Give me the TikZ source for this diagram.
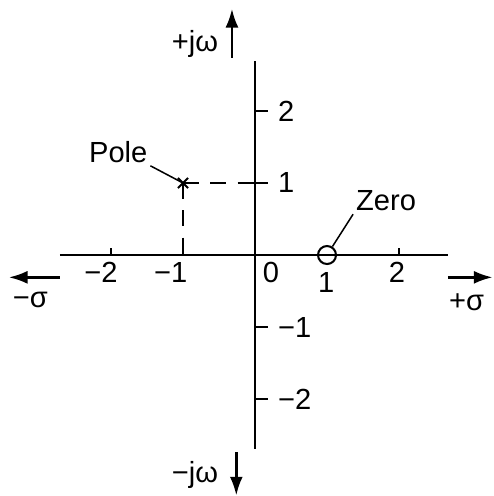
\documentclass[tikz,border=0pt]{standalone}
\usepackage{fontspec}
\setmainfont{Liberation Sans}
\usepackage{tikz}
\usetikzlibrary{arrows.meta,positioning,calc}

\begin{document}
\begin{tikzpicture}[every node/.style={font=\fontsize{11.5}{12}\selectfont, inner sep=1pt}]
\tikzset{axis/.style={line width=0.8pt}}
\tikzset{dir/.style={line width=1pt, -{Latex[length=2.6mm, width=1.8mm]}}}
\tikzset{tick/.style={line width=0.7pt}}
\tikzset{guide/.style={line width=0.7pt, dash pattern=on 2.2mm off 1.6mm}}
\useasboundingbox (-3.542,-3.347) rectangle (3.306,3.542);

% Axes
\coordinate (o) at (0,0);
\coordinate (ytop) at (0,2.69);
\coordinate (ybot) at (0,-2.69);
\coordinate (xlft) at (-2.71,0);
\coordinate (xrgt) at (2.68,0);
\draw[axis] (ytop) -- (ybot);
\draw[axis] (xlft) -- (xrgt);

% Direction arrows
\coordinate (up0) at (-0.32,2.74);   \coordinate (up1) at (-0.32,3.42);
\coordinate (dn0) at (-0.26,-2.74);  \coordinate (dn1) at (-0.26,-3.34);
\coordinate (lf0) at (-2.71,-0.31);  \coordinate (lf1) at (-3.42,-0.31);
\coordinate (rt0) at (2.68,-0.31);   \coordinate (rt1) at (3.30,-0.31);
\draw[dir] (up0) -- (up1);
\draw[dir] (dn0) -- (dn1);
\draw[dir] (lf0) -- (lf1);
\draw[dir] (rt0) -- (rt1);
\node[anchor=east] (jwp) at (-0.47,2.93) {+jω};
\node[anchor=east] (jwm) at (-0.47,-3.06) {−jω};
\node (sgm) at (-3.12,-0.63) {−σ};
\node (sgp) at (2.94,-0.65) {+σ};

% Ticks and labels
\foreach \v/\t in {2/2,-1/−1,-2/−2} {
  \draw[tick] (0,\v) -- (0.18,\v);
  \node[anchor=west] (ty\v) at (0.28,\v) {\t};
}
\draw[tick] (-0.17,1) -- (0.18,1);
\node[anchor=west] (ty1) at (0.28,1.01) {1};
\foreach \u/\t/\xs in {-2/−2/-2.14,-1/−1/-1.17,2/2/1.97} {
  \draw[tick] (\u,0) -- (\u,0.10);
  \node (tx\u) at (\xs,-0.24) {\t};
}
\node (tx0) at (0.22,-0.24) {0};
\node (tx1) at (0.99,-0.38) {1};

% Pole and zero
\coordinate (pole) at (-1,1);
\draw[line width=0.8pt] ($(pole)+(-0.07,-0.07)$) -- ($(pole)+(0.07,0.07)$)
  ($(pole)+(-0.07,0.07)$) -- ($(pole)+(0.07,-0.07)$);
\draw[guide] (pole) -- (0,1);
\draw[guide] (pole) -- (-1,0);
\node[draw, circle, line width=0.8pt, minimum size=0.25cm, inner sep=0pt] (zero) at (1,0) {};
\node (plbl) at (-1.90,1.43) {Pole};
\node (zlbl) at (1.82,0.75) {Zero};
\draw[line width=0.6pt] (plbl.south east) -- (pole);
\draw[line width=0.6pt] (zlbl.south west) -- (zero);
\end{tikzpicture}
\end{document}
